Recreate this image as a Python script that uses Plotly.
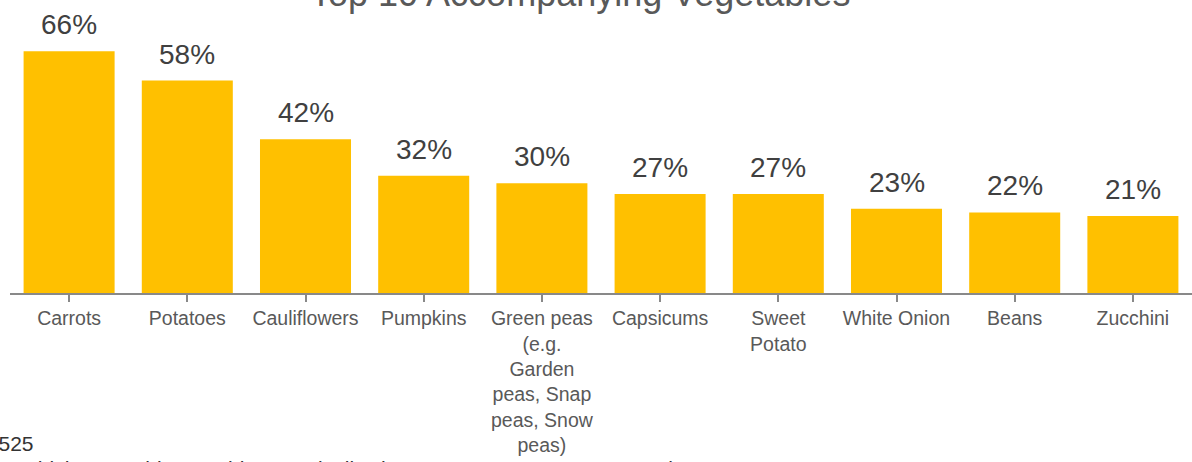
import plotly.graph_objects as go

categories = ["Carrots", "Potatoes", "Cauliflowers", "Pumpkins",
              "Green peas<br>(e.g.<br>Garden<br>peas, Snap<br>peas, Snow<br>peas)",
              "Capsicums", "Sweet<br>Potato", "White Onion", "Beans", "Zucchini"]
values = [66, 58, 42, 32, 30, 27, 27, 23, 22, 21]
labels = [f"{v}%" for v in values]

title_text = "Top 10 Accompanying Vegetables"
base_text = "Base: n=525"
question_text = "Q. Which vegetables would you typically choose to accompany your meal?"

FONT = "Liberation Sans, Arial, sans-serif"
W, H = 1192, 462
ML, MR, MT, MB = 10, 0, 0, 169
PW, PH = W - ML - MR, H - MT - MB

fig = go.Figure(go.Bar(
    x=list(range(len(categories))), y=values,
    marker=dict(color="#FFC000", line=dict(width=0)),
    width=0.77,
    hoverinfo="skip",
))

for i, (v, t) in enumerate(zip(values, labels)):
    fig.add_annotation(x=i, y=v, text=t, showarrow=False, yanchor="bottom",
                       yshift=9, font=dict(size=28, color="#404040", family=FONT))

fig.add_annotation(x=(580 - ML) / PW, xref="paper", y=1, yref="paper", text=title_text,
                   showarrow=False, xanchor="center", yanchor="bottom", yshift=-16,
                   font=dict(size=36, color="#595959", family=FONT))

fig.add_annotation(x=(36 - ML) / PW, xref="paper", y=(PH - 444) / PH, yref="paper",
                   text=base_text, showarrow=False, xanchor="right", yanchor="middle",
                   font=dict(size=21, color="#333333", family=FONT))
fig.add_annotation(x=(-12 - ML) / PW, xref="paper", y=(PH - 468) / PH, yref="paper",
                   text=question_text, showarrow=False, xanchor="left", yanchor="middle",
                   font=dict(size=21, color="#333333", family=FONT))

fig.update_layout(
    width=W, height=H,
    margin=dict(l=ML, r=MR, t=MT, b=MB),
    paper_bgcolor="white", plot_bgcolor="white",
    showlegend=False,
    font=dict(family=FONT),
    xaxis=dict(
        tickmode="array", tickvals=list(range(len(categories))), ticktext=categories,
        range=[-0.5, len(categories) - 0.5],
        showline=True, linecolor="#898989", linewidth=1.5,
        ticks="outside", tickson="boundaries", ticklen=7, tickcolor="#898989", tickwidth=1.5,
        tickfont=dict(size=19.5, color="#595959", family=FONT),
        showgrid=False, zeroline=False, tickangle=0,
    ),
    yaxis=dict(range=[0, 80], visible=False, showgrid=False, zeroline=False),
)

fig.write_html("out.html")
